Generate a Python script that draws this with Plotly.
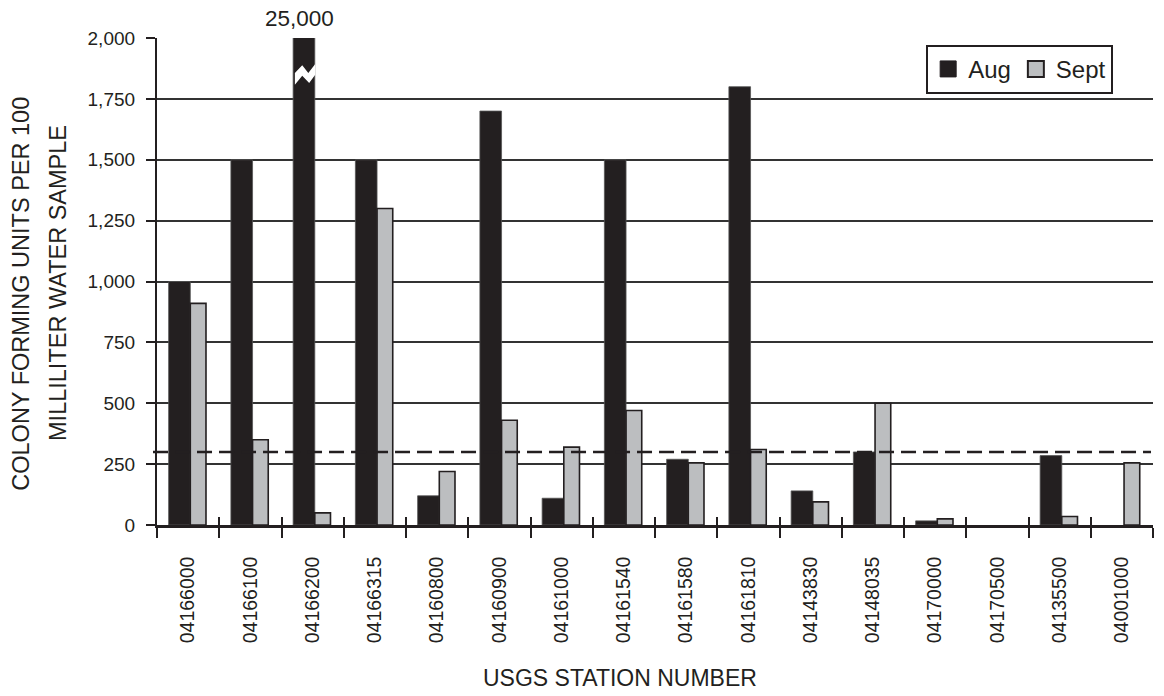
import plotly.graph_objects as go

# Stations and colony counts (colonies per 100 mL)
stations = ["04166000", "04166100", "04166200", "04166315", "04160800", "04160900",
            "04161000", "04161540", "04161580", "04161810", "04143830", "04148035",
            "04170000", "04170500", "04135500", "04001000"]
aug = [1000, 1500, 25000, 1500, 120, 1700, 110, 1500, 270, 1800, 140, 300, 17, 0, 285, 0]
sept = [910, 350, 50, 1300, 220, 430, 320, 470, 255, 310, 95, 500, 25, 0, 35, 255]
criterion = 300
y_ticks = [0, 250, 500, 750, 1000, 1250, 1500, 1750, 2000]
y_max = 2000

INK = "#231f20"
GRAY = "#bcbec0"
FONT = "Liberation Sans, Arial, sans-serif"

AUG_OFFSET, AUG_WIDTH = -0.313, 0.348
SEPT_OFFSET, SEPT_WIDTH = 0.035, 0.252

fig = go.Figure()

fig.add_trace(go.Bar(
    x=stations, y=aug, name="Aug", showlegend=False,
    offset=AUG_OFFSET, width=AUG_WIDTH,
    marker=dict(color=INK,
                line=dict(color="#555555", width=[0.8 if v > 0 else 0 for v in aug])),
))
fig.add_trace(go.Bar(
    x=stations, y=sept, name="Sept", showlegend=False,
    offset=SEPT_OFFSET, width=SEPT_WIDTH,
    marker=dict(color=GRAY,
                line=dict(color=INK, width=[1.6 if v > 0 else 0 for v in sept])),
))

# Axis-break symbol on any Aug bar that runs off the top of the scale
break_mid = 1850
zig_top = [(0.08, 6), (0.42, 38), (0.70, 6), (1.02, 43)]
zig_bot = [(1.02, -1), (0.74, -35), (0.42, -5), (0.08, -42)]
for i, v in enumerate(aug):
    if v > y_max:
        left = i + AUG_OFFSET
        pts = zig_top + zig_bot + [zig_top[0]]
        fig.add_trace(go.Scatter(
            x=[left + u * AUG_WIDTH for u, _ in pts],
            y=[break_mid + d for _, d in pts],
            xaxis="x2", mode="lines", fill="toself", fillcolor="white",
            line=dict(width=0, color="white"), hoverinfo="skip", showlegend=False,
        ))
        fig.add_annotation(
            x=left + AUG_WIDTH / 2, y=1.040, xref="x2", yref="paper",
            text=f"{v:,}", showarrow=False, yanchor="middle", xshift=-4,
            font=dict(family=FONT, size=22.5, color=INK),
        )

# Legend swatches
fig.add_trace(go.Scatter(x=[None], y=[None], mode="markers", name="Aug",
                         marker=dict(symbol="square", size=16, color=INK,
                                     line=dict(color=INK, width=1))))
fig.add_trace(go.Scatter(x=[None], y=[None], mode="markers", name="Sept",
                         marker=dict(symbol="square", size=16, color=GRAY,
                                     line=dict(color=INK, width=2))))

# Water-quality criterion line
fig.add_shape(type="line", xref="paper", yref="y", x0=-0.004, x1=0.998,
              y0=criterion, y1=criterion,
              line=dict(color=INK, width=2.5, dash="15px,7px"), layer="above")

# Axis titles
title_font = dict(family=FONT, size=23.5, color=INK)
fig.add_annotation(text="COLONY FORMING UNITS PER 100", textangle=-90,
                   xref="paper", yref="paper", x=-0.1365, y=0.475,
                   xanchor="center", yanchor="middle", showarrow=False, font=title_font)
fig.add_annotation(text="MILLILITER WATER SAMPLE", textangle=-90,
                   xref="paper", yref="paper", x=-0.0989, y=0.498,
                   xanchor="center", yanchor="middle", showarrow=False, font=title_font)
fig.add_annotation(text="USGS STATION NUMBER",
                   xref="paper", yref="paper", x=0.465, y=-0.314,
                   xanchor="center", yanchor="middle", showarrow=False,
                   font=dict(family=FONT, size=23, color=INK))

fig.update_layout(
    width=1164, height=696,
    margin=dict(l=157, r=11, t=38, b=171),
    paper_bgcolor="white", plot_bgcolor="white",
    font=dict(family=FONT, color=INK),
    barmode="overlay",
    showlegend=True,
    legend=dict(
        orientation="h", x=0.96, xanchor="right", y=0.986, yanchor="top",
        bgcolor="white", bordercolor=INK, borderwidth=2,
        font=dict(family=FONT, size=24, color=INK),
        itemwidth=30, traceorder="normal",
    ),
    xaxis=dict(
        type="category", categoryorder="array", categoryarray=stations,
        tickangle=-90, tickson="boundaries", ticks="outside", ticklen=10,
        tickwidth=2, tickcolor=INK, ticklabelstandoff=21,
        showline=True, linewidth=2.5, linecolor=INK, showgrid=False,
        tickfont=dict(family=FONT, size=19.5, color=INK),
        range=[-0.5, len(stations) - 0.5],
    ),
    xaxis2=dict(
        overlaying="x", anchor="y", side="bottom",
        range=[-0.5, len(stations) - 0.5],
        tickmode="array", tickvals=[k - 0.5 for k in range(1, len(stations))],
        ticks="inside", ticklen=8, tickwidth=2, tickcolor=INK,
        showticklabels=False, showgrid=False, zeroline=False, showline=False,
    ),
    yaxis=dict(
        range=[0, y_max], tickmode="array", tickvals=y_ticks, tickformat=",",
        ticks="outside", ticklen=9, tickwidth=2, tickcolor=INK,
        ticklabelstandoff=7,
        showline=True, linewidth=2.2, linecolor=INK,
        showgrid=True, gridcolor="#333333", gridwidth=1.5, zeroline=False,
        tickfont=dict(family=FONT, size=19, color=INK),
    ),
)

fig.write_html("out.html")
